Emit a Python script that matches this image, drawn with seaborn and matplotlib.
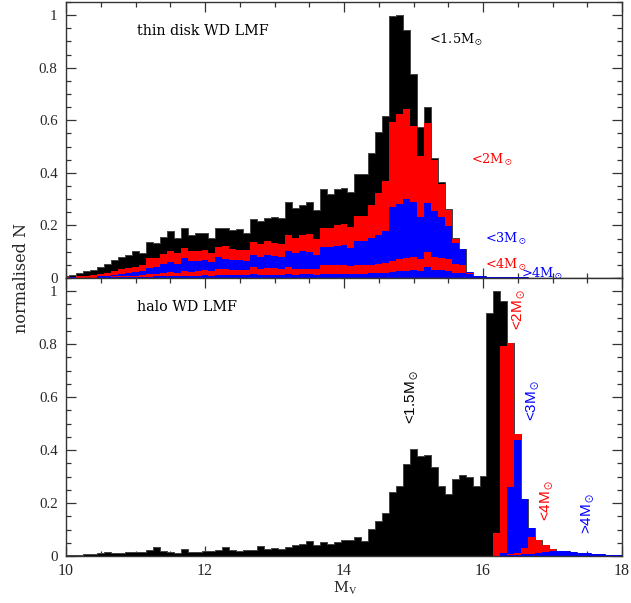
import numpy as np
import pandas as pd
import seaborn as sns
import matplotlib
matplotlib.use("Agg")
import matplotlib.pyplot as plt
from matplotlib.ticker import MultipleLocator, FuncFormatter

# ---- binning: 0.1 mag bins centred on 10.0 ... 18.0 ----
mv_centres = np.round(np.linspace(10.0, 18.0, 81), 2)
mv_edges = [float(e) for e in np.linspace(9.95, 18.05, 82)]

# ---- thin disk WD LMF, cumulative by progenitor mass (k = 0..59), then common faint tail ----
disk_tail = [0.006, 0.005, 0.004, 0.003, 0.003, 0.002, 0.002, 0.001, 0.001, 0.001,
             0, 0, 0, 0, 0, 0, 0, 0, 0, 0, 0]

disk_all = [0.007, 0.012, 0.018, 0.025, 0.032, 0.042, 0.055, 0.068, 0.078, 0.086,
            0.101, 0.096, 0.137, 0.133, 0.157, 0.178, 0.153, 0.191, 0.163, 0.170,
            0.170, 0.153, 0.189, 0.191, 0.184, 0.185, 0.172, 0.223, 0.216, 0.228,
            0.233, 0.229, 0.290, 0.267, 0.278, 0.290, 0.258, 0.337, 0.320, 0.339,
            0.343, 0.328, 0.397, 0.397, 0.476, 0.555, 0.618, 0.995, 1.000, 0.944,
            0.777, 0.574, 0.650, 0.456, 0.364, 0.262, 0.152, 0.110, 0.022, 0.008] + disk_tail

disk_gt15 = [0.003, 0.005, 0.007, 0.009, 0.012, 0.015, 0.020, 0.027, 0.033, 0.038,
             0.042, 0.050, 0.075, 0.077, 0.093, 0.103, 0.096, 0.115, 0.103, 0.103,
             0.106, 0.096, 0.119, 0.120, 0.109, 0.107, 0.107, 0.137, 0.128, 0.140,
             0.135, 0.131, 0.164, 0.152, 0.164, 0.168, 0.150, 0.191, 0.192, 0.201,
             0.207, 0.195, 0.234, 0.237, 0.279, 0.322, 0.370, 0.594, 0.624, 0.643,
             0.579, 0.465, 0.588, 0.450, 0.358, 0.258, 0.150, 0.110, 0.022, 0.008] + disk_tail

disk_gt2 = [0.001, 0.002, 0.003, 0.004, 0.005, 0.007, 0.009, 0.013, 0.017, 0.020,
            0.024, 0.028, 0.038, 0.041, 0.052, 0.060, 0.054, 0.075, 0.066, 0.064,
            0.068, 0.060, 0.078, 0.074, 0.070, 0.069, 0.066, 0.088, 0.080, 0.087,
            0.082, 0.078, 0.102, 0.094, 0.101, 0.099, 0.089, 0.117, 0.118, 0.123,
            0.124, 0.116, 0.142, 0.142, 0.152, 0.165, 0.180, 0.269, 0.281, 0.300,
            0.288, 0.233, 0.284, 0.256, 0.231, 0.199, 0.135, 0.110, 0.022, 0.008] + disk_tail

disk_gt3 = [0.001, 0.001, 0.002, 0.002, 0.003, 0.004, 0.005, 0.006, 0.007, 0.008,
            0.009, 0.010, 0.014, 0.015, 0.019, 0.022, 0.020, 0.026, 0.024, 0.025,
            0.030, 0.025, 0.036, 0.036, 0.031, 0.031, 0.031, 0.042, 0.034, 0.038,
            0.037, 0.036, 0.042, 0.036, 0.036, 0.036, 0.034, 0.048, 0.049, 0.050,
            0.051, 0.046, 0.048, 0.049, 0.050, 0.053, 0.057, 0.066, 0.071, 0.075,
            0.080, 0.072, 0.098, 0.080, 0.076, 0.072, 0.055, 0.048, 0.018, 0.007] + disk_tail

disk_gt4 = [0.000, 0.001, 0.001, 0.001, 0.001, 0.002, 0.002, 0.003, 0.003, 0.004,
            0.004, 0.004, 0.005, 0.006, 0.007, 0.008, 0.007, 0.009, 0.008, 0.009,
            0.010, 0.009, 0.011, 0.012, 0.011, 0.011, 0.011, 0.014, 0.012, 0.013,
            0.013, 0.012, 0.015, 0.013, 0.014, 0.014, 0.013, 0.016, 0.016, 0.017,
            0.017, 0.016, 0.017, 0.017, 0.018, 0.019, 0.020, 0.024, 0.025, 0.027,
            0.030, 0.027, 0.040, 0.032, 0.030, 0.028, 0.020, 0.018, 0.014, 0.007] + disk_tail

# ---- halo WD LMF ----
halo_tail = [0.020, 0.018, 0.015, 0.012, 0.010, 0.008, 0.006, 0.005, 0.004, 0.003]

halo_all = [0.003, 0.004, 0.005, 0.006, 0.008, 0.012, 0.014, 0.011, 0.013, 0.014,
            0.014, 0.015, 0.022, 0.033, 0.020, 0.014, 0.013, 0.026, 0.014, 0.016,
            0.019, 0.020, 0.023, 0.033, 0.023, 0.019, 0.023, 0.024, 0.037, 0.028,
            0.031, 0.025, 0.035, 0.043, 0.044, 0.056, 0.040, 0.054, 0.044, 0.054,
            0.061, 0.061, 0.073, 0.058, 0.102, 0.133, 0.162, 0.240, 0.263, 0.347,
            0.405, 0.376, 0.380, 0.338, 0.263, 0.234, 0.290, 0.307, 0.297, 0.263,
            0.303, 0.919, 1.000, 0.963, 0.805, 0.462, 0.215, 0.105, 0.060, 0.042,
            0.025] + halo_tail

halo_gt15 = [0] * 62 + [0.085, 0.793, 0.805, 0.462, 0.215, 0.105, 0.060, 0.042, 0.025] + halo_tail
halo_gt2 = [0] * 62 + [0.005, 0.010, 0.259, 0.440, 0.215, 0.105, 0.060, 0.042, 0.025] + halo_tail
halo_gt3 = [0] * 62 + [0.003, 0.005, 0.008, 0.012, 0.030, 0.073, 0.060, 0.042, 0.025] + halo_tail
halo_gt4 = [0] * 62 + [0.001, 0.002, 0.003, 0.004, 0.006, 0.008, 0.012, 0.016, 0.018] + halo_tail

layer_colors = ["black", "#ff0000", "#0000ff", "#ff0000", "#0000ff"]

sns.set_theme(style="white")
plt.rcParams["font.family"] = ["DejaVu Serif"]
plt.rcParams["mathtext.fontset"] = "stix"

W, H = 631, 603
fig = plt.figure(figsize=(W / 100, H / 100), dpi=100)
x0, x1 = 66 / W, 622 / W
ax_top = fig.add_axes([x0, 1 - 278 / H, x1 - x0, 276 / H])
ax_bot = fig.add_axes([x0, 1 - 556 / H, x1 - x0, 278 / H])


def draw_layers(ax, layers):
    for i, (vals, col) in enumerate(zip(layers, layer_colors)):
        df = pd.DataFrame({"Mv": mv_centres, "N": vals})
        sns.histplot(data=df, x="Mv", weights="N", bins=mv_edges, element="step",
                     fill=True, facecolor=col,
                     edgecolor="#444444" if i == 0 else col,
                     linewidth=0.7 if i == 0 else 0.0, alpha=1, ax=ax)


draw_layers(ax_top, [disk_all, disk_gt15, disk_gt2, disk_gt3, disk_gt4])
draw_layers(ax_bot, [halo_all, halo_gt15, halo_gt2, halo_gt3, halo_gt4])

fmt = FuncFormatter(lambda v, p: "%g" % round(v, 2))
for ax in (ax_top, ax_bot):
    ax.set_xlim(10, 18)
    ax.set_ylim(0, 1.05)
    ax.set_xlabel("")
    ax.set_ylabel("")
    ax.xaxis.set_major_locator(MultipleLocator(2))
    ax.xaxis.set_minor_locator(MultipleLocator(0.5))
    ax.yaxis.set_major_locator(MultipleLocator(0.2))
    ax.yaxis.set_minor_locator(MultipleLocator(0.05))
    ax.yaxis.set_major_formatter(fmt)
    ax.tick_params(which="both", direction="in", top=True, right=True,
                   bottom=True, left=True, color="#333333", width=0.9,
                   labelsize=10.8, pad=6)
    ax.tick_params(which="major", length=7)
    ax.tick_params(which="minor", length=3.5)
    for lab in ax.get_xticklabels() + ax.get_yticklabels():
        lab.set_family("Liberation Serif")
    for s in ax.spines.values():
        s.set_color("#333333")
        s.set_linewidth(1.0)
        s.set_visible(True)

ax_top.tick_params(labelbottom=False)
ax_bot.xaxis.set_major_formatter(fmt)
ax_bot.tick_params(axis="x", labelsize=11.5, pad=5)
for ax in (ax_top, ax_bot):
    for lab in ax.get_xticklabels() + ax.get_yticklabels():
        lab.set_family("Liberation Serif")

# panel titles
ax_top.text(11.02, 0.925, "thin disk WD LMF", fontsize=10.3, color="black")
ax_bot.text(11.02, 0.925, "halo WD LMF", fontsize=10.3, color="black")

# mass labels, thin disk
ms = 9.3
ax_top.text(15.22, 0.893, r"<1.5M$_\odot$", fontsize=ms, color="black")
ax_top.text(15.83, 0.437, r"<2M$_\odot$", fontsize=ms, color="#ff0000")
ax_top.text(16.03, 0.137, r"<3M$_\odot$", fontsize=ms, color="#0000ff")
ax_top.text(16.03, 0.038, r"<4M$_\odot$", fontsize=ms, color="#ff0000")
ax_top.text(16.54, 0.004, r">4M$_\odot$", fontsize=ms, color="#0000ff")

# mass labels, halo (vertical)
sans = ["Liberation Sans"]
ax_bot.text(14.99, 0.60, r"<1.5M$_\odot$", rotation=90, ha="center", va="center",
            fontsize=11, color="black", family=sans)
ax_bot.text(16.52, 0.93, r"<2M$_\odot$", rotation=90, ha="center", va="center",
            fontsize=11, color="#ff0000", family=sans)
ax_bot.text(16.72, 0.59, r"<3M$_\odot$", rotation=90, ha="center", va="center",
            fontsize=11, color="#0000ff", family=sans)
ax_bot.text(16.92, 0.21, r"<4M$_\odot$", rotation=90, ha="center", va="center",
            fontsize=11, color="#ff0000", family=sans)
ax_bot.text(17.52, 0.16, r">4M$_\odot$", rotation=90, ha="center", va="center",
            fontsize=11, color="#0000ff", family=sans)

fig.text(22 / W, 1 - 278 / H, "normalised N", rotation=90, ha="center",
         va="center", fontsize=11.5)
fig.text(345 / W, 1 - 588 / H, r"M$_{\rm V}$", ha="center", va="center",
         fontsize=10.5)

fig.savefig("out.png", dpi=100)
